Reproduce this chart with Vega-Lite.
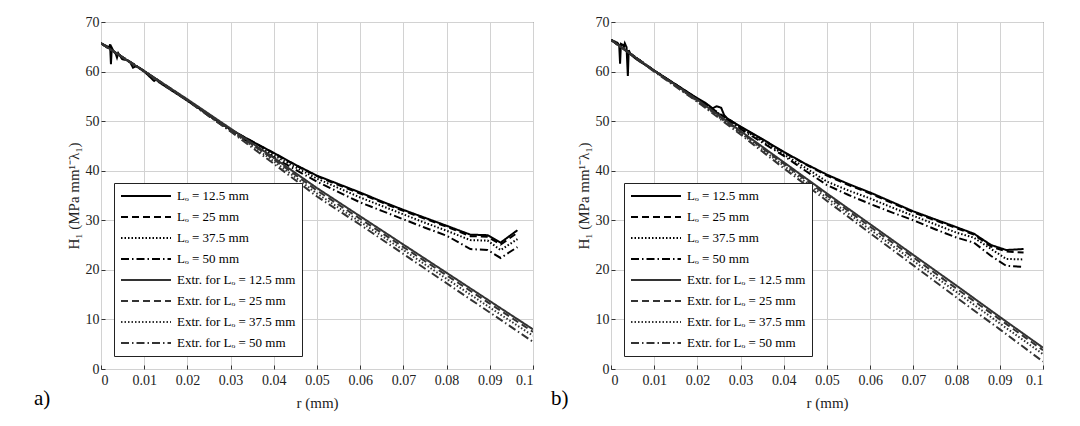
{
  "$schema": "https://vega.github.io/schema/vega-lite/v6.json",
  "padding": {"left": 33, "top": 14, "right": 5, "bottom": 5},
  "spacing": 16,
  "config": {
    "font": "'Liberation Serif', 'Times New Roman', serif",
    "view": {"stroke": "#333", "strokeWidth": 1},
    "axis": {
      "labelFont": "'Liberation Serif', 'Times New Roman', serif", "labelFontSize": 14, "labelColor": "#222",
      "titleFont": "'Liberation Serif', 'Times New Roman', serif", "titleFontSize": 15, "titleFontWeight": "normal", "titleColor": "#222",
      "gridColor": "#d2d2d2", "gridOpacity": 1, "gridWidth": 1,
      "domain": false, "ticks": true, "tickColor": "#333", "tickSize": -4
    },
    "axisX": {"titlePadding": 8, "labelPadding": 8},
    "axisY": {"titlePadding": 4, "labelPadding": 6},
    "legend": {
      "orient": "bottom-left", "offset": 13, "symbolType": "stroke", "symbolSize": 2500,
      "clipHeight": 14, "rowPadding": 7, "labelFont": "'Liberation Serif', 'Times New Roman', serif", "labelFontSize": 13,
      "labelColor": "#000", "labelOffset": 5, "padding": 6, "strokeColor": "#222", "fillColor": "#fff",
      "labelLimit": 300
    },
    "title": {"font": "'Liberation Serif', 'Times New Roman', serif", "fontSize": 21, "fontWeight": "normal", "color": "#000"}
  },
  "datasets": {
    "a": [
      {"s":"Lₒ = 12.5 mm","r":0,"H":65.7},{"s":"Lₒ = 12.5 mm","r":0.0012,"H":65.2},{"s":"Lₒ = 12.5 mm","r":0.0019,"H":64.9},{"s":"Lₒ = 12.5 mm","r":0.0021,"H":65.5},{"s":"Lₒ = 12.5 mm","r":0.0023,"H":61.5},{"s":"Lₒ = 12.5 mm","r":0.0025,"H":64.8},{"s":"Lₒ = 12.5 mm","r":0.0029,"H":64.1},{"s":"Lₒ = 12.5 mm","r":0.0034,"H":63.6},{"s":"Lₒ = 12.5 mm","r":0.0037,"H":62.8},{"s":"Lₒ = 12.5 mm","r":0.004,"H":63.7},{"s":"Lₒ = 12.5 mm","r":0.0049,"H":62.5},{"s":"Lₒ = 12.5 mm","r":0.006,"H":62.3},{"s":"Lₒ = 12.5 mm","r":0.0068,"H":61.8},{"s":"Lₒ = 12.5 mm","r":0.0074,"H":60.8},{"s":"Lₒ = 12.5 mm","r":0.0082,"H":61.1},{"s":"Lₒ = 12.5 mm","r":0.0099,"H":60.1},{"s":"Lₒ = 12.5 mm","r":0.0123,"H":58.1},{"s":"Lₒ = 12.5 mm","r":0.0128,"H":58.4},{"s":"Lₒ = 12.5 mm","r":0.0135,"H":57.8},{"s":"Lₒ = 12.5 mm","r":0.0197,"H":54.3},{"s":"Lₒ = 12.5 mm","r":0.025,"H":51.2},{"s":"Lₒ = 12.5 mm","r":0.03,"H":48.3},{"s":"Lₒ = 12.5 mm","r":0.035,"H":45.9},{"s":"Lₒ = 12.5 mm","r":0.04,"H":43.6},{"s":"Lₒ = 12.5 mm","r":0.045,"H":41.2},{"s":"Lₒ = 12.5 mm","r":0.05,"H":39.0},{"s":"Lₒ = 12.5 mm","r":0.055,"H":37.3},{"s":"Lₒ = 12.5 mm","r":0.06,"H":35.6},{"s":"Lₒ = 12.5 mm","r":0.065,"H":33.8},{"s":"Lₒ = 12.5 mm","r":0.07,"H":32.1},{"s":"Lₒ = 12.5 mm","r":0.075,"H":30.5},{"s":"Lₒ = 12.5 mm","r":0.08,"H":28.9},{"s":"Lₒ = 12.5 mm","r":0.0855,"H":27.1},{"s":"Lₒ = 12.5 mm","r":0.0895,"H":27.0},{"s":"Lₒ = 12.5 mm","r":0.0925,"H":25.5},{"s":"Lₒ = 12.5 mm","r":0.0964,"H":28.0},
      {"s":"Lₒ = 25 mm","r":0,"H":65.7},{"s":"Lₒ = 25 mm","r":0.01,"H":60.1},{"s":"Lₒ = 25 mm","r":0.02,"H":54.2},{"s":"Lₒ = 25 mm","r":0.025,"H":51.2},{"s":"Lₒ = 25 mm","r":0.03,"H":48.3},{"s":"Lₒ = 25 mm","r":0.035,"H":45.9},{"s":"Lₒ = 25 mm","r":0.04,"H":43.5},{"s":"Lₒ = 25 mm","r":0.045,"H":41.1},{"s":"Lₒ = 25 mm","r":0.05,"H":38.9},{"s":"Lₒ = 25 mm","r":0.055,"H":37.1},{"s":"Lₒ = 25 mm","r":0.06,"H":35.4},{"s":"Lₒ = 25 mm","r":0.065,"H":33.6},{"s":"Lₒ = 25 mm","r":0.07,"H":31.9},{"s":"Lₒ = 25 mm","r":0.075,"H":30.3},{"s":"Lₒ = 25 mm","r":0.08,"H":28.7},{"s":"Lₒ = 25 mm","r":0.0855,"H":26.8},{"s":"Lₒ = 25 mm","r":0.0895,"H":26.7},{"s":"Lₒ = 25 mm","r":0.0925,"H":25.1},{"s":"Lₒ = 25 mm","r":0.0964,"H":27.5},
      {"s":"Lₒ = 37.5 mm","r":0,"H":65.7},{"s":"Lₒ = 37.5 mm","r":0.01,"H":60.1},{"s":"Lₒ = 37.5 mm","r":0.02,"H":54.2},{"s":"Lₒ = 37.5 mm","r":0.025,"H":51.1},{"s":"Lₒ = 37.5 mm","r":0.03,"H":48.2},{"s":"Lₒ = 37.5 mm","r":0.035,"H":45.6},{"s":"Lₒ = 37.5 mm","r":0.04,"H":43.1},{"s":"Lₒ = 37.5 mm","r":0.045,"H":40.7},{"s":"Lₒ = 37.5 mm","r":0.05,"H":38.4},{"s":"Lₒ = 37.5 mm","r":0.055,"H":36.5},{"s":"Lₒ = 37.5 mm","r":0.06,"H":34.6},{"s":"Lₒ = 37.5 mm","r":0.065,"H":32.9},{"s":"Lₒ = 37.5 mm","r":0.07,"H":31.2},{"s":"Lₒ = 37.5 mm","r":0.075,"H":29.5},{"s":"Lₒ = 37.5 mm","r":0.08,"H":27.9},{"s":"Lₒ = 37.5 mm","r":0.0855,"H":26.0},{"s":"Lₒ = 37.5 mm","r":0.0895,"H":25.9},{"s":"Lₒ = 37.5 mm","r":0.0925,"H":24.0},{"s":"Lₒ = 37.5 mm","r":0.0964,"H":26.2},
      {"s":"Lₒ = 50 mm","r":0,"H":65.7},{"s":"Lₒ = 50 mm","r":0.01,"H":60.1},{"s":"Lₒ = 50 mm","r":0.02,"H":54.2},{"s":"Lₒ = 50 mm","r":0.025,"H":51.0},{"s":"Lₒ = 50 mm","r":0.03,"H":48.0},{"s":"Lₒ = 50 mm","r":0.035,"H":45.3},{"s":"Lₒ = 50 mm","r":0.04,"H":42.7},{"s":"Lₒ = 50 mm","r":0.045,"H":40.2},{"s":"Lₒ = 50 mm","r":0.05,"H":37.8},{"s":"Lₒ = 50 mm","r":0.055,"H":35.7},{"s":"Lₒ = 50 mm","r":0.06,"H":33.6},{"s":"Lₒ = 50 mm","r":0.065,"H":31.9},{"s":"Lₒ = 50 mm","r":0.07,"H":30.2},{"s":"Lₒ = 50 mm","r":0.075,"H":28.5},{"s":"Lₒ = 50 mm","r":0.08,"H":26.9},{"s":"Lₒ = 50 mm","r":0.0855,"H":24.2},{"s":"Lₒ = 50 mm","r":0.0895,"H":24.0},{"s":"Lₒ = 50 mm","r":0.0925,"H":22.4},{"s":"Lₒ = 50 mm","r":0.0964,"H":24.6},
      {"s":"Extr. for Lₒ = 12.5 mm","r":0,"H":65.7},{"s":"Extr. for Lₒ = 12.5 mm","r":0.01,"H":60.1},{"s":"Extr. for Lₒ = 12.5 mm","r":0.02,"H":54.4},{"s":"Extr. for Lₒ = 12.5 mm","r":0.03,"H":48.5},{"s":"Extr. for Lₒ = 12.5 mm","r":0.04,"H":42.6},{"s":"Extr. for Lₒ = 12.5 mm","r":0.05,"H":36.5},{"s":"Extr. for Lₒ = 12.5 mm","r":0.06,"H":30.8},{"s":"Extr. for Lₒ = 12.5 mm","r":0.07,"H":25.1},{"s":"Extr. for Lₒ = 12.5 mm","r":0.08,"H":19.4},{"s":"Extr. for Lₒ = 12.5 mm","r":0.09,"H":13.7},{"s":"Extr. for Lₒ = 12.5 mm","r":0.1,"H":8.0},
      {"s":"Extr. for Lₒ = 25 mm","r":0,"H":65.7},{"s":"Extr. for Lₒ = 25 mm","r":0.01,"H":60.1},{"s":"Extr. for Lₒ = 25 mm","r":0.02,"H":54.3},{"s":"Extr. for Lₒ = 25 mm","r":0.03,"H":48.3},{"s":"Extr. for Lₒ = 25 mm","r":0.04,"H":42.3},{"s":"Extr. for Lₒ = 25 mm","r":0.05,"H":36.0},{"s":"Extr. for Lₒ = 25 mm","r":0.06,"H":30.3},{"s":"Extr. for Lₒ = 25 mm","r":0.07,"H":24.6},{"s":"Extr. for Lₒ = 25 mm","r":0.08,"H":18.9},{"s":"Extr. for Lₒ = 25 mm","r":0.09,"H":13.2},{"s":"Extr. for Lₒ = 25 mm","r":0.1,"H":7.5},
      {"s":"Extr. for Lₒ = 37.5 mm","r":0,"H":65.7},{"s":"Extr. for Lₒ = 37.5 mm","r":0.01,"H":60.0},{"s":"Extr. for Lₒ = 37.5 mm","r":0.02,"H":54.2},{"s":"Extr. for Lₒ = 37.5 mm","r":0.03,"H":48.1},{"s":"Extr. for Lₒ = 37.5 mm","r":0.04,"H":41.9},{"s":"Extr. for Lₒ = 37.5 mm","r":0.05,"H":35.4},{"s":"Extr. for Lₒ = 37.5 mm","r":0.06,"H":29.7},{"s":"Extr. for Lₒ = 37.5 mm","r":0.07,"H":24.0},{"s":"Extr. for Lₒ = 37.5 mm","r":0.08,"H":18.2},{"s":"Extr. for Lₒ = 37.5 mm","r":0.09,"H":12.4},{"s":"Extr. for Lₒ = 37.5 mm","r":0.1,"H":6.7},
      {"s":"Extr. for Lₒ = 50 mm","r":0,"H":65.7},{"s":"Extr. for Lₒ = 50 mm","r":0.01,"H":60.0},{"s":"Extr. for Lₒ = 50 mm","r":0.02,"H":54.1},{"s":"Extr. for Lₒ = 50 mm","r":0.03,"H":47.9},{"s":"Extr. for Lₒ = 50 mm","r":0.04,"H":41.4},{"s":"Extr. for Lₒ = 50 mm","r":0.05,"H":34.8},{"s":"Extr. for Lₒ = 50 mm","r":0.06,"H":29.1},{"s":"Extr. for Lₒ = 50 mm","r":0.07,"H":23.2},{"s":"Extr. for Lₒ = 50 mm","r":0.08,"H":17.3},{"s":"Extr. for Lₒ = 50 mm","r":0.09,"H":11.4},{"s":"Extr. for Lₒ = 50 mm","r":0.1,"H":5.5}
    ],
    "b": [
      {"s":"Lₒ = 12.5 mm","r":0,"H":66.4},{"s":"Lₒ = 12.5 mm","r":0.0015,"H":65.8},{"s":"Lₒ = 12.5 mm","r":0.0019,"H":65.3},{"s":"Lₒ = 12.5 mm","r":0.0021,"H":61.6},{"s":"Lₒ = 12.5 mm","r":0.0023,"H":65.6},{"s":"Lₒ = 12.5 mm","r":0.0027,"H":65.4},{"s":"Lₒ = 12.5 mm","r":0.003,"H":65.0},{"s":"Lₒ = 12.5 mm","r":0.0032,"H":65.7},{"s":"Lₒ = 12.5 mm","r":0.0036,"H":64.9},{"s":"Lₒ = 12.5 mm","r":0.0039,"H":59.1},{"s":"Lₒ = 12.5 mm","r":0.0041,"H":64.3},{"s":"Lₒ = 12.5 mm","r":0.0046,"H":63.4},{"s":"Lₒ = 12.5 mm","r":0.006,"H":62.4},{"s":"Lₒ = 12.5 mm","r":0.01,"H":60.2},{"s":"Lₒ = 12.5 mm","r":0.015,"H":57.4},{"s":"Lₒ = 12.5 mm","r":0.02,"H":54.6},{"s":"Lₒ = 12.5 mm","r":0.022,"H":53.6},{"s":"Lₒ = 12.5 mm","r":0.0235,"H":52.6},{"s":"Lₒ = 12.5 mm","r":0.0245,"H":53.0},{"s":"Lₒ = 12.5 mm","r":0.0255,"H":52.7},{"s":"Lₒ = 12.5 mm","r":0.0262,"H":51.2},{"s":"Lₒ = 12.5 mm","r":0.027,"H":50.5},{"s":"Lₒ = 12.5 mm","r":0.03,"H":48.9},{"s":"Lₒ = 12.5 mm","r":0.035,"H":46.4},{"s":"Lₒ = 12.5 mm","r":0.04,"H":43.8},{"s":"Lₒ = 12.5 mm","r":0.045,"H":41.4},{"s":"Lₒ = 12.5 mm","r":0.05,"H":39.2},{"s":"Lₒ = 12.5 mm","r":0.055,"H":37.3},{"s":"Lₒ = 12.5 mm","r":0.06,"H":35.6},{"s":"Lₒ = 12.5 mm","r":0.065,"H":33.7},{"s":"Lₒ = 12.5 mm","r":0.07,"H":31.8},{"s":"Lₒ = 12.5 mm","r":0.075,"H":30.2},{"s":"Lₒ = 12.5 mm","r":0.08,"H":28.6},{"s":"Lₒ = 12.5 mm","r":0.084,"H":27.3},{"s":"Lₒ = 12.5 mm","r":0.088,"H":25.0},{"s":"Lₒ = 12.5 mm","r":0.0915,"H":24.0},{"s":"Lₒ = 12.5 mm","r":0.0955,"H":24.2},
      {"s":"Lₒ = 25 mm","r":0,"H":66.4},{"s":"Lₒ = 25 mm","r":0.01,"H":60.2},{"s":"Lₒ = 25 mm","r":0.02,"H":54.5},{"s":"Lₒ = 25 mm","r":0.025,"H":51.6},{"s":"Lₒ = 25 mm","r":0.03,"H":48.8},{"s":"Lₒ = 25 mm","r":0.035,"H":46.3},{"s":"Lₒ = 25 mm","r":0.04,"H":43.7},{"s":"Lₒ = 25 mm","r":0.045,"H":41.3},{"s":"Lₒ = 25 mm","r":0.05,"H":39.0},{"s":"Lₒ = 25 mm","r":0.055,"H":37.1},{"s":"Lₒ = 25 mm","r":0.06,"H":35.4},{"s":"Lₒ = 25 mm","r":0.065,"H":33.5},{"s":"Lₒ = 25 mm","r":0.07,"H":31.6},{"s":"Lₒ = 25 mm","r":0.075,"H":30.0},{"s":"Lₒ = 25 mm","r":0.08,"H":28.4},{"s":"Lₒ = 25 mm","r":0.084,"H":27.1},{"s":"Lₒ = 25 mm","r":0.088,"H":24.7},{"s":"Lₒ = 25 mm","r":0.0915,"H":23.7},{"s":"Lₒ = 25 mm","r":0.0955,"H":23.5},
      {"s":"Lₒ = 37.5 mm","r":0,"H":66.4},{"s":"Lₒ = 37.5 mm","r":0.01,"H":60.2},{"s":"Lₒ = 37.5 mm","r":0.02,"H":54.5},{"s":"Lₒ = 37.5 mm","r":0.025,"H":51.5},{"s":"Lₒ = 37.5 mm","r":0.03,"H":48.6},{"s":"Lₒ = 37.5 mm","r":0.035,"H":46.0},{"s":"Lₒ = 37.5 mm","r":0.04,"H":43.3},{"s":"Lₒ = 37.5 mm","r":0.045,"H":40.6},{"s":"Lₒ = 37.5 mm","r":0.05,"H":37.8},{"s":"Lₒ = 37.5 mm","r":0.055,"H":36.0},{"s":"Lₒ = 37.5 mm","r":0.06,"H":34.4},{"s":"Lₒ = 37.5 mm","r":0.065,"H":32.6},{"s":"Lₒ = 37.5 mm","r":0.07,"H":30.9},{"s":"Lₒ = 37.5 mm","r":0.075,"H":29.2},{"s":"Lₒ = 37.5 mm","r":0.08,"H":27.5},{"s":"Lₒ = 37.5 mm","r":0.084,"H":26.5},{"s":"Lₒ = 37.5 mm","r":0.088,"H":24.2},{"s":"Lₒ = 37.5 mm","r":0.0915,"H":22.2},{"s":"Lₒ = 37.5 mm","r":0.0955,"H":22.1},
      {"s":"Lₒ = 50 mm","r":0,"H":66.4},{"s":"Lₒ = 50 mm","r":0.01,"H":60.2},{"s":"Lₒ = 50 mm","r":0.02,"H":54.5},{"s":"Lₒ = 50 mm","r":0.025,"H":51.4},{"s":"Lₒ = 50 mm","r":0.03,"H":48.4},{"s":"Lₒ = 50 mm","r":0.035,"H":45.7},{"s":"Lₒ = 50 mm","r":0.04,"H":43.0},{"s":"Lₒ = 50 mm","r":0.045,"H":40.0},{"s":"Lₒ = 50 mm","r":0.05,"H":37.1},{"s":"Lₒ = 50 mm","r":0.055,"H":35.1},{"s":"Lₒ = 50 mm","r":0.06,"H":33.3},{"s":"Lₒ = 50 mm","r":0.065,"H":31.6},{"s":"Lₒ = 50 mm","r":0.07,"H":30.0},{"s":"Lₒ = 50 mm","r":0.075,"H":28.2},{"s":"Lₒ = 50 mm","r":0.08,"H":26.5},{"s":"Lₒ = 50 mm","r":0.084,"H":25.5},{"s":"Lₒ = 50 mm","r":0.088,"H":22.8},{"s":"Lₒ = 50 mm","r":0.0915,"H":20.8},{"s":"Lₒ = 50 mm","r":0.0955,"H":20.6},
      {"s":"Extr. for Lₒ = 12.5 mm","r":0,"H":66.4},{"s":"Extr. for Lₒ = 12.5 mm","r":0.01,"H":60.2},{"s":"Extr. for Lₒ = 12.5 mm","r":0.02,"H":54.3},{"s":"Extr. for Lₒ = 12.5 mm","r":0.03,"H":48.0},{"s":"Extr. for Lₒ = 12.5 mm","r":0.04,"H":41.7},{"s":"Extr. for Lₒ = 12.5 mm","r":0.05,"H":35.4},{"s":"Extr. for Lₒ = 12.5 mm","r":0.06,"H":29.2},{"s":"Extr. for Lₒ = 12.5 mm","r":0.07,"H":23.0},{"s":"Extr. for Lₒ = 12.5 mm","r":0.08,"H":16.8},{"s":"Extr. for Lₒ = 12.5 mm","r":0.09,"H":10.5},{"s":"Extr. for Lₒ = 12.5 mm","r":0.1,"H":4.3},
      {"s":"Extr. for Lₒ = 25 mm","r":0,"H":66.4},{"s":"Extr. for Lₒ = 25 mm","r":0.01,"H":60.1},{"s":"Extr. for Lₒ = 25 mm","r":0.02,"H":54.2},{"s":"Extr. for Lₒ = 25 mm","r":0.03,"H":47.8},{"s":"Extr. for Lₒ = 25 mm","r":0.04,"H":41.4},{"s":"Extr. for Lₒ = 25 mm","r":0.05,"H":35.0},{"s":"Extr. for Lₒ = 25 mm","r":0.06,"H":28.7},{"s":"Extr. for Lₒ = 25 mm","r":0.07,"H":22.5},{"s":"Extr. for Lₒ = 25 mm","r":0.08,"H":16.2},{"s":"Extr. for Lₒ = 25 mm","r":0.09,"H":10.0},{"s":"Extr. for Lₒ = 25 mm","r":0.1,"H":3.8},
      {"s":"Extr. for Lₒ = 37.5 mm","r":0,"H":66.4},{"s":"Extr. for Lₒ = 37.5 mm","r":0.01,"H":60.1},{"s":"Extr. for Lₒ = 37.5 mm","r":0.02,"H":54.0},{"s":"Extr. for Lₒ = 37.5 mm","r":0.03,"H":47.6},{"s":"Extr. for Lₒ = 37.5 mm","r":0.04,"H":41.0},{"s":"Extr. for Lₒ = 37.5 mm","r":0.05,"H":34.5},{"s":"Extr. for Lₒ = 37.5 mm","r":0.06,"H":28.1},{"s":"Extr. for Lₒ = 37.5 mm","r":0.07,"H":21.8},{"s":"Extr. for Lₒ = 37.5 mm","r":0.08,"H":15.5},{"s":"Extr. for Lₒ = 37.5 mm","r":0.09,"H":9.2},{"s":"Extr. for Lₒ = 37.5 mm","r":0.1,"H":3.0},
      {"s":"Extr. for Lₒ = 50 mm","r":0,"H":66.4},{"s":"Extr. for Lₒ = 50 mm","r":0.01,"H":60.0},{"s":"Extr. for Lₒ = 50 mm","r":0.02,"H":53.9},{"s":"Extr. for Lₒ = 50 mm","r":0.03,"H":47.3},{"s":"Extr. for Lₒ = 50 mm","r":0.04,"H":40.5},{"s":"Extr. for Lₒ = 50 mm","r":0.05,"H":33.9},{"s":"Extr. for Lₒ = 50 mm","r":0.06,"H":27.4},{"s":"Extr. for Lₒ = 50 mm","r":0.07,"H":20.9},{"s":"Extr. for Lₒ = 50 mm","r":0.08,"H":14.4},{"s":"Extr. for Lₒ = 50 mm","r":0.09,"H":8.0},{"s":"Extr. for Lₒ = 50 mm","r":0.1,"H":1.5}
    ]
  },
  "resolve": {"scale": {"color": "independent", "strokeDash": "independent", "strokeWidth": "independent"}},
  "hconcat": [
    {
      "width": 432, "height": 347,
      "data": {"name": "a"},
      "title": {"text": "a)", "orient": "bottom", "anchor": "start", "frame": "group", "dx": -67, "offset": -22},
      "mark": {"type": "line", "clip": true},
      "encoding": {
        "x": {"field": "r", "type": "quantitative", "title": "r (mm)",
              "scale": {"domain": [0, 0.1], "nice": false},
              "axis": {"values": [0, 0.01, 0.02, 0.03, 0.04, 0.05, 0.06, 0.07, 0.08, 0.09, 0.1], "format": "~g"}},
        "y": {"field": "H", "type": "quantitative", "title": "H₁ (MPa mm¹⁻λ₁)",
              "scale": {"domain": [0, 70], "nice": false},
              "axis": {"values": [0, 10, 20, 30, 40, 50, 60, 70]}},
        "color": {"field": "s", "type": "nominal", "title": null,
                  "scale": {"domain": ["Lₒ = 12.5 mm", "Lₒ = 25 mm", "Lₒ = 37.5 mm", "Lₒ = 50 mm", "Extr. for Lₒ = 12.5 mm", "Extr. for Lₒ = 25 mm", "Extr. for Lₒ = 37.5 mm", "Extr. for Lₒ = 50 mm"],
                            "range": ["#000", "#000", "#000", "#000", "#333", "#333", "#333", "#333"]}},
        "strokeDash": {"field": "s", "type": "nominal", "title": null,
                  "scale": {"domain": ["Lₒ = 12.5 mm", "Lₒ = 25 mm", "Lₒ = 37.5 mm", "Lₒ = 50 mm", "Extr. for Lₒ = 12.5 mm", "Extr. for Lₒ = 25 mm", "Extr. for Lₒ = 37.5 mm", "Extr. for Lₒ = 50 mm"],
                            "range": [[1, 0], [7, 4], [1.5, 2], [8, 3, 1.5, 3], [1, 0], [7, 4], [1.5, 2], [8, 3, 1.5, 3]]}},
        "strokeWidth": {"field": "s", "type": "nominal", "title": null,
                  "scale": {"domain": ["Lₒ = 12.5 mm", "Lₒ = 25 mm", "Lₒ = 37.5 mm", "Lₒ = 50 mm", "Extr. for Lₒ = 12.5 mm", "Extr. for Lₒ = 25 mm", "Extr. for Lₒ = 37.5 mm", "Extr. for Lₒ = 50 mm"],
                            "range": [2, 2, 2, 2, 1, 1, 1, 1]}}
      }
    },
    {
      "width": 432, "height": 347,
      "data": {"name": "b"},
      "title": {"text": "b)", "orient": "bottom", "anchor": "start", "frame": "group", "dx": -60, "offset": -22},
      "mark": {"type": "line", "clip": true},
      "encoding": {
        "x": {"field": "r", "type": "quantitative", "title": "r (mm)",
              "scale": {"domain": [0, 0.1], "nice": false},
              "axis": {"values": [0, 0.01, 0.02, 0.03, 0.04, 0.05, 0.06, 0.07, 0.08, 0.09, 0.1], "format": "~g"}},
        "y": {"field": "H", "type": "quantitative", "title": "H₁ (MPa mm¹⁻λ₁)",
              "scale": {"domain": [0, 70], "nice": false},
              "axis": {"values": [0, 10, 20, 30, 40, 50, 60, 70]}},
        "color": {"field": "s", "type": "nominal", "title": null,
                  "scale": {"domain": ["Lₒ = 12.5 mm", "Lₒ = 25 mm", "Lₒ = 37.5 mm", "Lₒ = 50 mm", "Extr. for Lₒ = 12.5 mm", "Extr. for Lₒ = 25 mm", "Extr. for Lₒ = 37.5 mm", "Extr. for Lₒ = 50 mm"],
                            "range": ["#000", "#000", "#000", "#000", "#333", "#333", "#333", "#333"]}},
        "strokeDash": {"field": "s", "type": "nominal", "title": null,
                  "scale": {"domain": ["Lₒ = 12.5 mm", "Lₒ = 25 mm", "Lₒ = 37.5 mm", "Lₒ = 50 mm", "Extr. for Lₒ = 12.5 mm", "Extr. for Lₒ = 25 mm", "Extr. for Lₒ = 37.5 mm", "Extr. for Lₒ = 50 mm"],
                            "range": [[1, 0], [7, 4], [1.5, 2], [8, 3, 1.5, 3], [1, 0], [7, 4], [1.5, 2], [8, 3, 1.5, 3]]}},
        "strokeWidth": {"field": "s", "type": "nominal", "title": null,
                  "scale": {"domain": ["Lₒ = 12.5 mm", "Lₒ = 25 mm", "Lₒ = 37.5 mm", "Lₒ = 50 mm", "Extr. for Lₒ = 12.5 mm", "Extr. for Lₒ = 25 mm", "Extr. for Lₒ = 37.5 mm", "Extr. for Lₒ = 50 mm"],
                            "range": [2, 2, 2, 2, 1, 1, 1, 1]}}
      }
    }
  ]
}
